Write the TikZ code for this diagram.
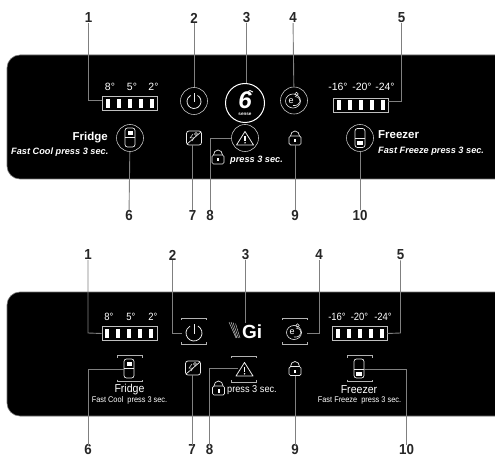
\documentclass[tikz,border=0pt]{standalone}
\usepackage{fontspec}
\setmainfont{Liberation Sans}
\tikzset{
 x=1pt,y=-1pt,
 panel/.style={fill=black,draw=black!55,line width=.6pt,rounded corners=13pt},
 num/.style={font=\fontsize{14.5}{15}\bfseries\selectfont,text=black!85,inner sep=0pt,xscale=.92},
 lead/.style={draw=black!50,line width=.9pt},
 wt/.style={text=white,inner sep=0pt},
 temp/.style={wt,font=\fontsize{10.5}{11}\selectfont},
 tempn/.style={wt,font=\fontsize{10.5}{11}\selectfont,xscale=.9},
 ttl/.style={wt,font=\fontsize{11.5}{12}\selectfont\bfseries},
 ttln/.style={wt,font=\fontsize{11.5}{12}\selectfont,xscale=.92},
 sub/.style={wt,font=\fontsize{9.2}{10}\bfseries\itshape\selectfont},
 subn/.style={wt,font=\fontsize{8.2}{9}\selectfont,xscale=.9},
 ring/.style={circle,draw=white!75!black,line width=.6pt,minimum size=27pt,inner sep=0pt},
 ic/.style={draw=white!92!black,line width=.7pt},
 barbox/.style={draw=white!75!black,line width=.7pt,minimum width=55pt,minimum height=14pt,inner sep=0pt},
 brk/.style={draw=white!70!black,line width=.6pt},
}
\newcommand{\bars}[2]{\foreach \k in {0,1,2,3,4}{\fill[white] ({#1+\k*11.1-2},{#2-4.7}) rectangle ({#1+\k*11.1+2},{#2+4.7});}}
\newcommand{\fridgeicon}[3]{% x y lower-or-upper block offset
 \draw[ic,rounded corners=2.5pt] ({#1-5},{#2-9.5}) rectangle ({#1+5},{#2+9.5});
 \draw[ic,line width=.5pt] ({#1-5},{#2+#3}) -- ({#1+5},{#2+#3});}
\newcommand{\lockicon}[2]{%
 \draw[ic,rounded corners=1.5pt] ({#1-6},{#2-3}) rectangle ({#1+6},{#2+6});
 \draw[ic] ({#1-4.5},{#2-3}) arc (180:360:4.5 and 5);
 \fill[white] ({#1-1},{#2}) rectangle ({#1+1},{#2+3.5});}
\newcommand{\vacicon}[2]{%
 \draw[ic,rounded corners=2.5pt] ({#1-7.5},{#2-7}) rectangle ({#1+7.5},{#2+7});
 \draw[ic] ({#1-7},{#2+6}) -- ({#1+7},{#2-6});
 \draw[ic,line width=.5pt] ({#1-1},{#2-4}) -- ({#1-4},{#2}) -- ({#1},{#2}) -- ({#1-2},{#2+3});
 \draw[ic,line width=.5pt] ({#1+2},{#2-4}) circle (1.5);}
\newcommand{\warnicon}[2]{%
 \draw[ic,line join=round,line width=.8pt] (#1,{#2-7.5}) -- ({#1+8.5},{#2+6}) -- ({#1-8.5},{#2+6}) -- cycle;
 \fill[white] ({#1-.7},{#2-3}) rectangle ({#1+.7},{#2+2});
 \fill[white] (#1,{#2+3.8}) circle (.8);}
\newcommand{\eicon}[2]{%
 \draw[ic,line width=.6pt] ({#1-1},{#2+.5}) circle (7.5 and 7);
 \node[wt,font=\fontsize{9}{9}\selectfont] at ({#1-3},{#2+.5}) {e};
 \draw[ic,line width=.6pt] ({#1+1},{#2-4}) .. controls ({#1+9},{#2-3}) and ({#1+7},{#2+6}) .. ({#1-1},{#2+5});
 \draw[ic,line width=.6pt] ({#1+2.5},{#2-6.5}) circle (1.8);}
\newcommand{\powicon}[3]{% x y radius
 \draw[ic,line width=.8pt] ({#1+#3*0.5},{#2-#3*0.866}) arc (-60:240:#3);
 \draw[ic,line width=.8pt] (#1,{#2-#3-1}) -- (#1,{#2+.5});}
\newcommand{\brackets}[2]{%
 \draw[brk] ({#1-12.5},{#2-11}) -- ({#1-12.5},{#2-13}) -- ({#1+12.5},{#2-13}) -- ({#1+12.5},{#2-11});
 \draw[brk] ({#1-12.5},{#2+11}) -- ({#1-12.5},{#2+13}) -- ({#1+12.5},{#2+13}) -- ({#1+12.5},{#2+11});}
\begin{document}
\begin{tikzpicture}
\useasboundingbox[fill=white] (0,0) rectangle (495,457);
\clip (0,0) rectangle (495,457);
% ---------- top panel
\fill[panel] (7,55) rectangle (510,179);
\node[num] (a1) at (88.5,18) {1};
\node[num] (a2) at (194,18) {2};
\node[num] (a3) at (246.5,18) {3};
\node[num] (a4) at (293,18) {4};
\node[num] (a5) at (401.5,18) {5};
\node[num] (a6) at (129,215.5) {6};
\node[num] (a7) at (192.5,215.5) {7};
\node[num] (a8) at (210,215.5) {8};
\node[num] (a9) at (295,215.5) {9};
\node[num] (a10) at (360,215.5) {10};
\node[barbox] (b1) at (129.5,103.5) {};
\coordinate (b1l) at (102,100);
\bars{107.5}{103.5}
\node[temp] at (110,87) {8°};
\node[temp] at (132,87) {5°};
\node[temp] at (153.5,87) {2°};
\node[barbox] (b5) at (360.5,105) {};
\coordinate (b5r) at (388,101.5);
\bars{339}{105}
\node[temp] at (338,87) {-16°};
\node[temp] at (362,87) {-20°};
\node[temp] at (385,87) {-24°};
\node[ring] (p) at (194,101) {}; \powicon{194}{101.5}{7}
\node[circle,draw=white,line width=1pt,minimum size=39pt,inner sep=0pt] (six) at (245,103) {};
\node[wt,font=\fontsize{24}{24}\bfseries\itshape\selectfont] at (245,100) {6};
\draw[white,line width=.9pt] (247,93) .. controls (249,90) and (251,90) .. (253,92);
\node[wt,font=\fontsize{4.6}{5}\bfseries\selectfont] at (245,114.5) {sense};
\node[ring] (e) at (294,100.5) {}; \eicon{294}{100.5}
\node[ring] (f) at (130,138) {}; \fridgeicon{130}{137.5}{-.5}
\fill[white] (127.5,131) rectangle (132.5,135);
\node[ring] (z) at (360,138) {}; \fridgeicon{360}{138}{.5}
\fill[white] (357,141) rectangle (363,145);
\node[ttl,anchor=east] at (108,138) {Fridge};
\node[sub,anchor=west] at (11,152) {Fast Cool press 3 sec.};
\node[ttl,anchor=west] at (378,135) {Freezer};
\node[sub,anchor=west] at (378,151) {Fast Freeze press 3 sec.};
\coordinate (v) at (192.5,145); \vacicon{194}{138}
\node[ring] (w) at (245,138) {}; \warnicon{245}{139}
\coordinate (lk) at (295,145); \lockicon{295}{139}
\lockicon{218}{158}
\node[sub,anchor=west] at (230,160) {press 3 sec.};
\draw[lead] (a1) -- (88.5,100) -- (b1l);
\draw[lead] (a2) -- (p);
\draw[lead] (a3) -- (246.5,83.5);
\draw[lead] (a4) -- (e);
\draw[lead] (a5) -- (401.5,101.5) -- (b5r);
\draw[lead] (a6) -- (f);
\draw[lead] (a7) -- (v);
\draw[lead] (a8) -- (210,138) -- (w.west);
\draw[lead] (a9) -- (lk);
\draw[lead] (a10) -- (z);
% ---------- bottom panel
\fill[panel] (7,292) rectangle (510,416);
\node[num] (c1) at (88,255) {1};
\node[num] (c2) at (172.5,255) {2};
\node[num] (c3) at (245.5,255) {3};
\node[num] (c4) at (319,255) {4};
\node[num] (c5) at (400.5,255) {5};
\node[num] (c6) at (88,450) {6};
\node[num] (c7) at (192,450) {7};
\node[num] (c8) at (209.5,450) {8};
\node[num] (c9) at (295,450) {9};
\node[num] (c10) at (406.5,450) {10};
\node[barbox] (d1) at (129.5,333.5) {};
\bars{107}{333.5}
\node[tempn] at (109,317) {8°};
\node[tempn] at (131,317) {5°};
\node[tempn] at (153,317) {2°};
\node[barbox] (d5) at (359.5,333.5) {};
\bars{337.5}{333.5}
\node[tempn] at (337,317) {-16°};
\node[tempn] at (359.5,317) {-20°};
\node[tempn] at (383,317) {-24°};
\coordinate (dp) at (182,333); \brackets{193.5}{331}\powicon{194}{333}{8}
\node[wt,font=\fontsize{19}{19}\bfseries\selectfont,anchor=west] (gi) at (242,331.5) {Gi};
\coordinate (gt) at (245.5,323);
\draw[white!80!black,line width=.45pt] (229,322) -- (236,338) (231,322) -- (237,338) (233,322.5) -- (238.5,338) (235.5,323.5) -- (240,338);
\coordinate (de) at (307,333); \brackets{295}{331}\eicon{295}{332}
\coordinate (df) at (124,369); \brackets{129.5}{368.5}\fridgeicon{129}{368.5}{-.5}
\fill[white] (126.5,362) rectangle (131.5,366);
\coordinate (dz) at (364,369); \brackets{359.5}{368.5}\fridgeicon{359}{368.5}{.5}
\fill[white] (356,371.5) rectangle (362,375.5);
\node[ttln] at (129.5,390) {Fridge};
\node[subn] at (129.5,400) {Fast Cool\ \ press 3 sec.};
\node[ttln] at (359,390) {Freezer};
\node[subn] at (359.5,400) {Fast Freeze\ \ press 3 sec.};
\coordinate (dv) at (192,375); \vacicon{193}{368}
\coordinate (dw) at (238,368.5); \brackets{244}{369}\warnicon{244.5}{370}
\coordinate (dl) at (295,376); \lockicon{295}{369.5}
\lockicon{218.5}{389}
\node[wt,font=\fontsize{10}{10}\selectfont,xscale=.92,anchor=west] at (227,390) {press 3 sec.};
\draw[lead] (c1) -- (88,333) -- (d1.west);
\draw[lead] (c2) -- (172.5,333) -- (dp);
\draw[lead] (c3) -- (gt);
\draw[lead] (c4) -- (319,333) -- (de);
\draw[lead] (c5) -- (400.5,333) -- (d5.east);
\draw[lead] (c6) -- (88,369) -- (df);
\draw[lead] (c7) -- (dv);
\draw[lead] (c8) -- (209.5,368.5) -- (dw);
\draw[lead] (c9) -- (dl);
\draw[lead] (c10) -- (406.5,369) -- (dz);
\end{tikzpicture}
\end{document}
